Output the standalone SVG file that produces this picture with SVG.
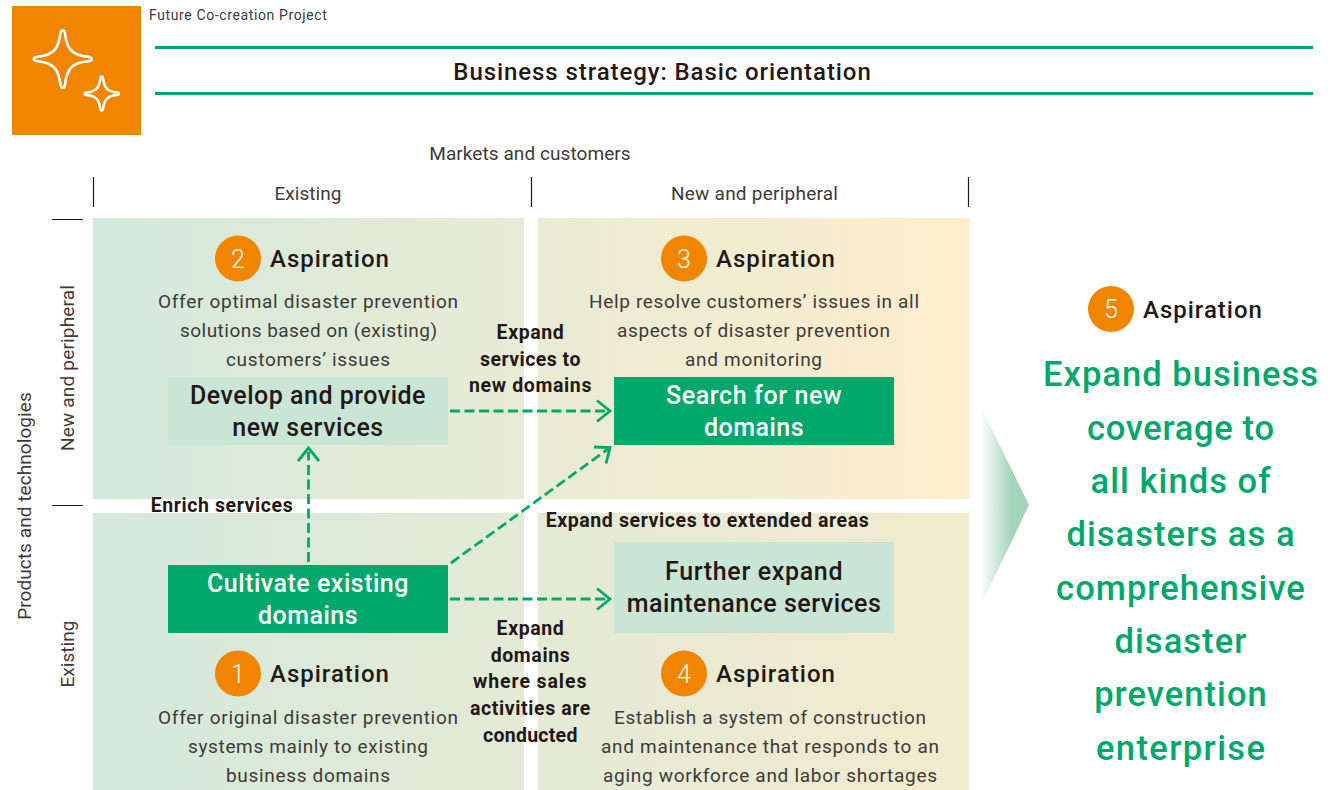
<svg xmlns="http://www.w3.org/2000/svg" width="1334" height="790" viewBox="0 0 1334 790">
<style>
text{font-family:"Roboto","Liberation Sans",sans-serif;text-anchor:middle;fill:#3e3a39}
.a{font-size:19px;letter-spacing:.07px}
.l{font-size:19px}
.h{font-size:24px;font-weight:500;fill:#231815;text-anchor:start;letter-spacing:1px}
.n{font-size:25px;fill:#fff;font-weight:300}
.b{font-size:25px;font-weight:500;letter-spacing:.5px;fill:#231815}
.b.w,.w{fill:#fff}
.s{font-size:19.5px;font-weight:700;fill:#231815;letter-spacing:.6px}
.g{font-size:34.5px;font-weight:500;fill:#00a96b;letter-spacing:1.05px}
.c{fill:#f18500}
.lite{fill:#c8e5d5}.dark{fill:#00a96b}
.rule{fill:#00a96b}
.tick{stroke:#231815;stroke-width:1.2;fill:none}
.cn{fill:none;stroke:#00a96b;stroke-width:2.8;stroke-dasharray:10 4.500}
.hd{fill:none;stroke:#00a96b;stroke-width:2.8}
.st{fill:none;stroke:#fff;stroke-linejoin:round}
</style>
<defs>
<linearGradient id="gt" gradientUnits="userSpaceOnUse" x1="93" y1="0" x2="969" y2="0"><stop offset="0" stop-color="#d4e9dc"/><stop offset="1" stop-color="#fdedcc"/></linearGradient>
<linearGradient id="gb" gradientUnits="userSpaceOnUse" x1="93" y1="0" x2="969" y2="0"><stop offset="0" stop-color="#d4e9dc"/><stop offset="1" stop-color="#f3ebce"/></linearGradient>
<linearGradient id="ga" gradientUnits="userSpaceOnUse" x1="980" y1="0" x2="1012" y2="0"><stop offset="0" stop-color="#fff"/><stop offset="1" stop-color="#a3d3b8"/></linearGradient>
<path id="star" d="M60.600 34.500C61 31 64.400 31 64.800 34.500C66.500 47 69 55.500 87 57C91 57.500 91 60.500 87 61C69 62.500 66.500 71 64.800 83.500C64.400 87 61 87 60.600 83.500C59 71 56 62.500 38.500 61C34.500 60.500 34.500 57.500 38.500 57C56 55.500 59 47 60.600 34.500Z"/>
</defs>
<g id="header">
<rect x="12" y="6" width="129" height="129" class="c"/>
<use href="#star" class="st" transform="translate(62.700 59) scale(1.06) translate(-62.700 -59)" style="stroke-width:2.500"/>
<use href="#star" class="st" transform="translate(101.700 93.700) scale(.63) translate(-62.700 -59)" style="stroke-width:4"/>
<text x="149" y="20" style="font-size:14px;text-anchor:start;letter-spacing:.62px">Future Co-creation Project</text>
<rect x="155" y="46" width="1158" height="3" class="rule"/>
<rect x="155" y="92" width="1158" height="3" class="rule"/>
<text x="662.500" y="80" style="font-size:24px;font-weight:500;fill:#231815;letter-spacing:.92px">Business strategy: Basic orientation</text>
</g>
<g id="axes">
<text x="530" y="160" class="a">Markets and customers</text>
<text x="308" y="200" class="a">Existing</text>
<text x="754.500" y="200" class="a" textLength="167">New and peripheral</text>
<path class="tick" d="M93.500 177V207M531.500 177V207M968.500 177V207M52 219.500H83M52 505.500H83"/>
<text transform="translate(31 506) rotate(-90)" class="a">Products and technologies</text>
<text transform="translate(74 368) rotate(-90)" class="a" textLength="166">New and peripheral</text>
<text transform="translate(74 654) rotate(-90)" class="a">Existing</text>
</g>
<g id="panels">
<rect x="93" y="218" width="431" height="281" fill="url(#gt)"/>
<rect x="538" y="218" width="431" height="281" fill="url(#gt)"/>
<rect x="93" y="513" width="431" height="277" fill="url(#gb)"/>
<rect x="538" y="513" width="431" height="277" fill="url(#gb)"/>
<path d="M980 405L1029 505L980 607Z" fill="url(#ga)"/>
</g>
<g id="aspiration-2">
<circle cx="238" cy="258.500" r="23" class="c"/><text x="238" y="267.500" class="n">2</text>
<text x="270" y="267" class="h">Aspiration</text>
<text x="308" y="308" class="l" textLength="300">Offer optimal disaster prevention</text>
<text x="308.500" y="337" class="l" textLength="257">solutions based on (existing)</text>
<text x="308" y="366" class="l" textLength="164">customers’ issues</text>
</g>
<g id="aspiration-3">
<circle cx="684" cy="258.500" r="23" class="c"/><text x="684" y="267.500" class="n">3</text>
<text x="716" y="267" class="h">Aspiration</text>
<text x="754" y="308" class="l" textLength="330">Help resolve customers’ issues in all</text>
<text x="753.500" y="337" class="l" textLength="273">aspects of disaster prevention</text>
<text x="753.500" y="366" class="l" textLength="137">and monitoring</text>
</g>
<g id="aspiration-1">
<circle cx="238" cy="673.500" r="23" class="c"/><text x="238" y="682.500" class="n">1</text>
<text x="270" y="682" class="h">Aspiration</text>
<text x="308" y="724" class="l" textLength="300">Offer original disaster prevention</text>
<text x="308" y="753" class="l" textLength="240">systems mainly to existing</text>
<text x="308" y="782" class="l" textLength="164">business domains</text>
</g>
<g id="aspiration-4">
<circle cx="684" cy="673.500" r="23" class="c"/><text x="684" y="682.500" class="n">4</text>
<text x="716" y="682" class="h">Aspiration</text>
<text x="770" y="724" class="l" textLength="312">Establish a system of construction</text>
<text x="770" y="753" class="l" textLength="338">and maintenance that responds to an</text>
<text x="770" y="782" class="l" textLength="334">aging workforce and labor shortages</text>
</g>
<g id="develop">
<rect x="168" y="377" width="280" height="68" class="lite"/>
<text x="308" y="404" class="b">Develop and provide</text>
<text x="308" y="436" class="b">new services</text>
</g>
<g id="search">
<rect x="614" y="377" width="280" height="68" class="dark"/>
<text x="754" y="404" class="b w" textLength="176">Search for new</text>
<text x="754" y="436" class="b w">domains</text>
</g>
<g id="cultivate">
<rect x="168" y="565" width="280" height="68" class="dark"/>
<text x="308" y="592" class="b w">Cultivate existing</text>
<text x="308" y="624" class="b w">domains</text>
</g>
<g id="maintenance">
<rect x="614" y="542" width="280" height="91" class="lite"/>
<text x="754" y="580" class="b" textLength="178">Further expand</text>
<text x="754" y="612" class="b">maintenance services</text>
</g>
<g id="connectors">
<path class="cn" d="M450 411H608"/><path class="hd" d="M597 400.500L610 411L597 421.500"/>
<path class="cn" d="M450 599H608"/><path class="hd" d="M597 588.500L610 599L597 609.500"/>
<path class="cn" d="M308.500 562V452"/><path class="hd" d="M298 461L308.500 448L319 461"/>
<path class="cn" d="M451 563L608 449"/><path class="hd" d="M594 447L610 447.500L606 463.500"/>
</g>
<g id="labels">
<text x="530.500" y="339" class="s">Expand</text>
<text x="530.500" y="366" class="s" textLength="101">services to</text>
<text x="530.500" y="392" class="s" textLength="123">new domains</text>
<text x="222" y="512" class="s">Enrich services</text>
<text x="707.500" y="527" class="s">Expand services to extended areas</text>
<text x="530.500" y="635" class="s">Expand</text>
<text x="530.500" y="662" class="s">domains</text>
<text x="530" y="688" class="s" textLength="114">where sales</text>
<text x="530.500" y="715" class="s">activities are</text>
<text x="530.500" y="742" class="s" textLength="95">conducted</text>
</g>
<g id="aspiration-5">
<circle cx="1111" cy="309" r="23" class="c"/><text x="1111" y="318" class="n">5</text>
<text x="1143" y="318" class="h">Aspiration</text>
<text x="1181" y="386" class="g">Expand business</text>
<text x="1181" y="440" class="g" textLength="188">coverage to</text>
<text x="1181" y="493" class="g">all kinds of</text>
<text x="1181" y="546" class="g">disasters as a</text>
<text x="1181" y="600" class="g">comprehensive</text>
<text x="1181" y="653" class="g">disaster</text>
<text x="1181" y="706" class="g">prevention</text>
<text x="1181" y="760" class="g" textLength="170">enterprise</text>
</g>
</svg>
